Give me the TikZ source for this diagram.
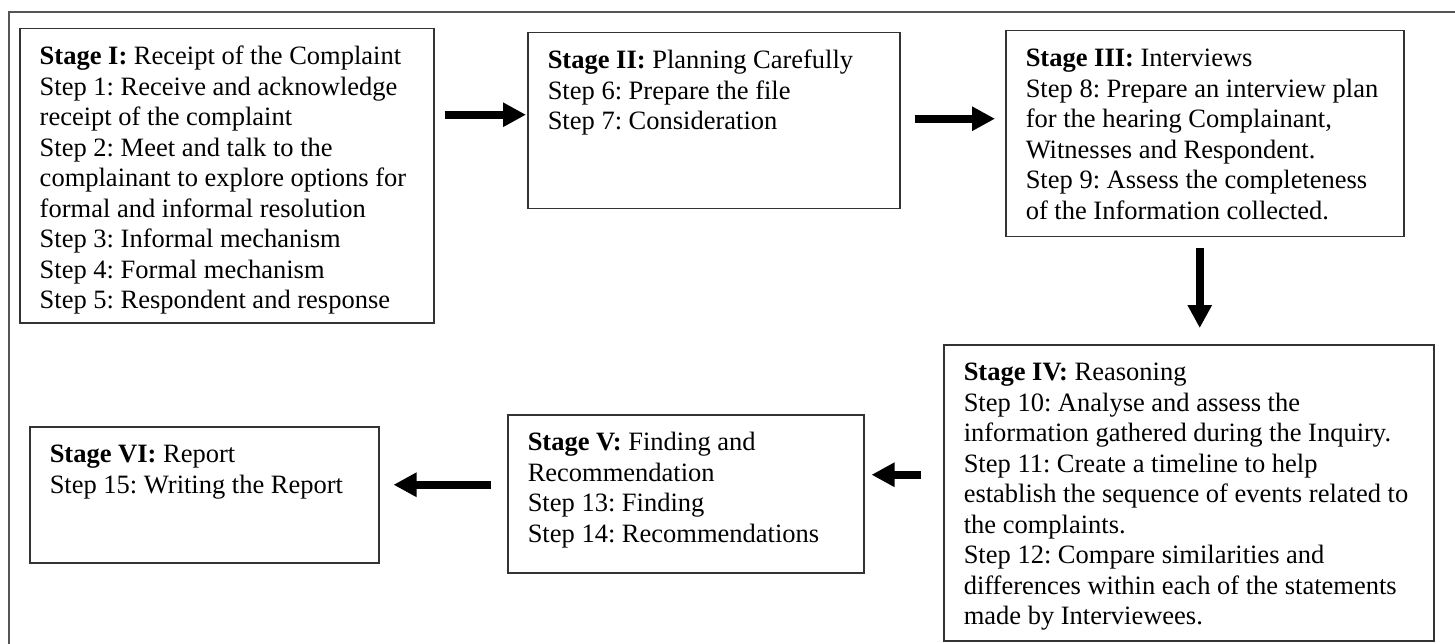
\documentclass[tikz,border=0pt]{standalone}
\usepackage{fontspec}
\setmainfont{Liberation Serif}
\usetikzlibrary{arrows.meta}
\definecolor{boxgray}{HTML}{333333}
\definecolor{framegray}{HTML}{555555}
\frenchspacing
\newcommand{\stagebody}[3]{\parbox[t][#2][t]{#1}{\raggedright\leftskip=20pt\relax\rule{0pt}{36pt}#3}}
\begin{document}
\begin{tikzpicture}[x=1pt, y=-1pt, >={Triangle[length=23pt,width=23pt]},
    stagebox/.style={draw=boxgray, line width=1.5pt, anchor=north west, inner sep=0pt,
        font=\fontsize{26.5}{30.5}\selectfont},
    flow/.style={->, line width=8pt}]
    \useasboundingbox (0,0) rectangle (1455,644);
    \draw[framegray, line width=2pt] (1455,12) -- (9,12) -- (9,644);
    \node[stagebox] (s1) at (19,28) {\stagebody{414pt}{294pt}{\textbf{Stage I:} Receipt of the Complaint\\
        Step 1: Receive and acknowledge\\
        receipt of the complaint\\
        Step 2: Meet and talk to the\\
        complainant to explore options for\\
        formal and informal resolution\\
        Step 3: Informal mechanism\\
        Step 4: Formal mechanism\\
        Step 5: Respondent and response}};
    \node[stagebox] (s2) at (527,32) {\stagebody{372pt}{176pt}{\textbf{Stage II:} Planning Carefully\\
        Step 6: Prepare the file\\
        Step 7: Consideration}};
    \node[stagebox] (s3) at (1005,30) {\stagebody{398pt}{206pt}{\textbf{Stage III:} Interviews\\
        Step 8: Prepare an interview plan\\
        for the hearing Complainant,\\
        Witnesses and Respondent.\\
        Step 9: Assess the completeness\\
        of the Information collected.}};
    \node[stagebox] (s4) at (943,344) {\stagebody{490pt}{296pt}{\textbf{Stage IV:} Reasoning\\
        Step 10: Analyse and assess the\\
        information gathered during the Inquiry.\\
        Step 11: Create a timeline to help\\
        establish the sequence of events related to\\
        the complaints.\\
        Step 12: Compare similarities and\\
        differences within each of the statements\\
        made by Interviewees.}};
    \node[stagebox] (s5) at (507,414) {\stagebody{356pt}{158pt}{\textbf{Stage V:} Finding and\\
        Recommendation\\
        Step 13: Finding\\
        Step 14: Recommendations}};
    \node[stagebox] (s6) at (29,426) {\stagebody{349pt}{136pt}{\textbf{Stage VI:} Report\\
        Step 15: Writing the Report}};
    \draw[flow] ([xshift=10pt,yshift=61pt]s1.east) -- ([xshift=-1pt,yshift=6pt]s2.west);
    \draw[flow] ([xshift=14pt,yshift=2pt]s2.east) -- ([xshift=-10pt,yshift=15pt]s3.west);
    \draw[flow] ([xshift=-5pt,yshift=-11pt]s3.south) -- ([xshift=11pt,yshift=16pt]s4.north);
    \draw[flow] ([xshift=-22pt,yshift=18pt]s4.west) -- ([xshift=7pt,yshift=19pt]s5.east);
    \draw[flow] ([xshift=-16pt,yshift=9pt]s5.west) -- ([xshift=14pt,yshift=10pt]s6.east);
\end{tikzpicture}
\end{document}
